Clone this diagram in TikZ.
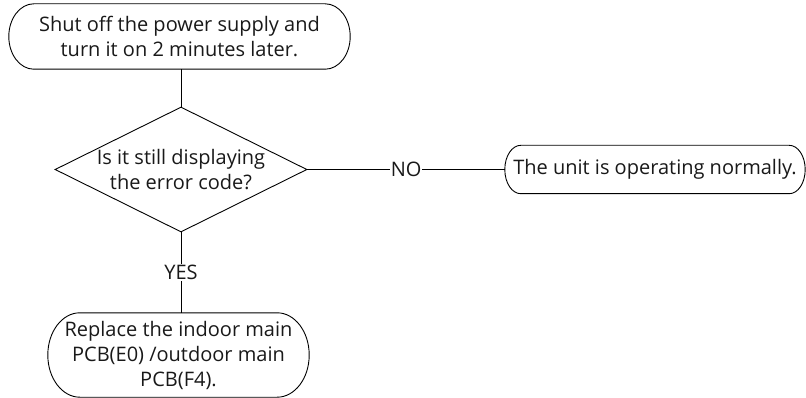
\documentclass[tikz,border=0pt]{standalone}
\usepackage{fontspec}
\setmainfont{Open Sans}
\usetikzlibrary{shapes.geometric,calc}

\tikzset{
  flowtext/.style={align=center, font=\fontsize{20}{25}\selectfont, text=black!90},
  terminal/.style={flowtext, inner sep=0pt},
  decision/.style={draw, diamond, line width=0.9pt, inner sep=0pt},
  link/.style={line width=0.9pt},
  linklabel/.style={flowtext, fill=white, inner sep=1pt}
}

% outline of a terminal node: straight top and bottom, half-elliptic ends
\newcommand\drawstadium[2]{%
  \draw[link] let \p1=(#1.north), \p2=(#1.south), \n1={abs(\y1-\y2)/2} in
    ([xshift=#2]#1.north west) -- ([xshift=-#2]#1.north east)
    arc[start angle=90, end angle=-90, x radius=#2, y radius=\n1]
    -- ([xshift=#2]#1.south west)
    arc[start angle=270, end angle=90, x radius=#2, y radius=\n1] -- cycle;}

\begin{document}
\begin{tikzpicture}[x=1pt, y=-1pt]
  \useasboundingbox (0,0) rectangle (806,398);

  % start: restart the unit
  \node[terminal, minimum width=341pt, minimum height=65pt]
    (restart) at (179.5,36.5) {Shut off the power supply and\\turn it on 2 minutes later.};
  \drawstadium{restart}{25pt}

  % decision on the error code
  \node[decision, minimum width=252pt, minimum height=125pt] (check) at (181,169.5) {};
  \node[flowtext] (checktext) at (check.center) {Is it still displaying\\the error code?};

  % outcome: no error
  \node[terminal, minimum width=300pt, minimum height=48pt]
    (normal) at (655,169.5) {The unit is operating normally.};
  \drawstadium{normal}{16pt}

  % outcome: error persists
  \node[terminal, minimum width=261pt, minimum height=84pt]
    (replace) at (178.5,355) {Replace the indoor main\\PCB(E0) /outdoor main\\PCB(F4).};
  \drawstadium{replace}{32pt}

  % connectors
  \draw[link] (restart.south -| check.north) -- (check.north);
  \draw[link] (check.east) -- node[linklabel] (nolabel) {NO} (normal.west);
  \draw[link] (check.south) -- node[linklabel] (yeslabel) {YES} (replace.north -| check.south);
\end{tikzpicture}
\end{document}
